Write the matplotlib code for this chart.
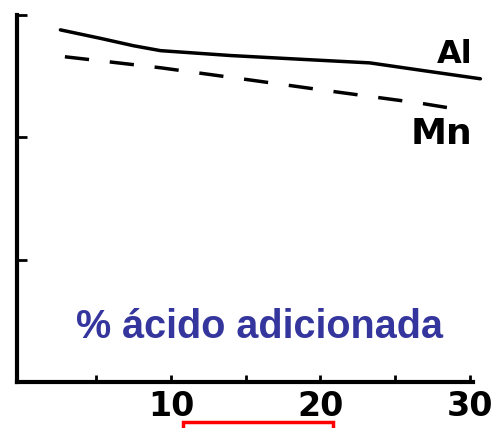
import numpy as np
import matplotlib.pyplot as plt
from matplotlib.patches import Rectangle

# curve values
al_x = [2.6, 5.3, 7.5, 9.3, 14.0, 18.6, 23.3, 26.7, 30.7]
al_y = [2.88, 2.81, 2.75, 2.71, 2.67, 2.64, 2.61, 2.55, 2.48]
mn_x = [2.9, 9.3, 15.3, 20.6, 26.7, 29.7]
mn_y = [2.66, 2.57, 2.47, 2.38, 2.28, 2.22]
xtick_pos = [10, 20, 30]
xtick_lab = ['10', '20', '30']

fig = plt.figure(figsize=(5.02, 4.28), dpi=100)
ax = fig.add_axes([0.034, 0.1075, 0.908, 0.857])

ax.plot(al_x, al_y, color='black', lw=2.5, clip_on=False, solid_capstyle='round')
ax.plot(mn_x, mn_y, color='black', lw=2.5, ls=(0, (7, 6)), clip_on=False)

ax.text(29.0, 2.68, 'Al', fontsize=23, fontweight='bold', ha='center', va='center')
ax.text(28.1, 2.03, 'Mn', fontsize=26, fontweight='bold', ha='center', va='center')
ax.text(15.9, 0.36, '% ácido adicionada', fontsize=28.5, fontweight='bold',
        family='Liberation Sans', color='#35359e', ha='center', va='baseline')

ax.set_xlim(-0.3, 30.2)
ax.set_ylim(0, 3)
for s in ['top', 'right']:
    ax.spines[s].set_visible(False)
for s in ['left', 'bottom']:
    ax.spines[s].set_linewidth(3)
ax.set_xticks(xtick_pos)
ax.set_xticklabels(xtick_lab, fontsize=24, fontweight='bold')
ax.set_xticks([5, 15, 25], minor=True)
ax.set_yticks([1, 2, 3])
ax.set_yticklabels([])
ax.tick_params(axis='x', which='both', direction='in', length=5, width=2, pad=6)
ax.tick_params(axis='y', direction='in', length=7, width=2)

# red box at the bottom edge
fig.patches.append(Rectangle((183 / 502, -0.05), 150 / 502, 0.065,
                             transform=fig.transFigure, fill=False,
                             edgecolor='red', lw=2.5))

fig.savefig('out.png', dpi=100)
